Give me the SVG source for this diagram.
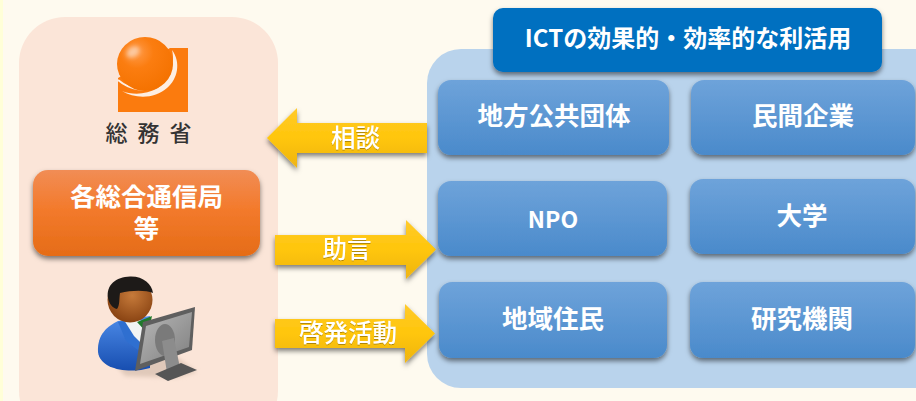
<svg xmlns="http://www.w3.org/2000/svg" width="916" height="401" viewBox="0 0 916 401">
  <defs>
    <linearGradient id="blueFill" x1="0" y1="0" x2="0" y2="1"><stop offset="0" stop-color="#6ea3da"/><stop offset="1" stop-color="#4a8acb"/></linearGradient>
    <linearGradient id="orangeFill" x1="0" y1="0" x2="0" y2="1"><stop offset="0" stop-color="#f18d55"/><stop offset="0.45" stop-color="#f37a2c"/><stop offset="1" stop-color="#e56c17"/></linearGradient>
    <linearGradient id="arrowFill" x1="0" y1="0" x2="0" y2="1"><stop offset="0" stop-color="#ffca2c"/><stop offset="0.5" stop-color="#ffc60a"/><stop offset="1" stop-color="#eeb414"/></linearGradient>
    <radialGradient id="ball" cx="0.35" cy="0.28" r="0.75"><stop offset="0" stop-color="#ff9a48"/><stop offset="0.4" stop-color="#fb7d10"/><stop offset="1" stop-color="#f47200"/></radialGradient>
    <radialGradient id="skin" cx="0.55" cy="0.4" r="0.6"><stop offset="0" stop-color="#c67a3a"/><stop offset="1" stop-color="#8a4413"/></radialGradient>
    <linearGradient id="suit" x1="0" y1="0" x2="0" y2="1"><stop offset="0" stop-color="#4d8be8"/><stop offset="1" stop-color="#174eb0"/></linearGradient>
    <linearGradient id="screen" x1="0" y1="0" x2="1" y2="1"><stop offset="0" stop-color="#b8b8b8"/><stop offset="1" stop-color="#7f7f7f"/></linearGradient>
    <filter id="shade" x="-15%" y="-20%" width="130%" height="145%"><feDropShadow dx="0" dy="3" stdDeviation="2.5" flood-color="#000" flood-opacity="0.5"/></filter>
    <filter id="soft" x="-30%" y="-30%" width="160%" height="160%"><feGaussianBlur stdDeviation="2"/></filter>
    <filter id="textShade" x="-10%" y="-20%" width="120%" height="140%"><feDropShadow dx="0" dy="1" stdDeviation="0.7" flood-color="#000" flood-opacity="0.3"/></filter>
  </defs>
  <style>
    text { font-family: "Noto Sans CJK JP", "Noto Sans", sans-serif; font-weight: 500; fill: #fff; text-anchor: middle; }
    .box { fill: url(#blueFill); filter: url(#shade); }
    .label { font-size: 25.500px; }
    .arrow { fill: url(#arrowFill); filter: url(#shade); }
    .arrowText { font-size: 24.500px; filter: url(#textShade); }
    .heavy { font-weight: 700; }
  </style>

  <!-- page and panels -->
  <rect width="916" height="401" fill="#fefaef"/>
  <rect width="3" height="401" fill="#ffffd8"/>
  <rect id="panel-left" x="19" y="17" width="259" height="420" rx="46" fill="#fbe5d8"/>
  <rect id="panel-right" x="427" y="49" width="530" height="339" rx="34" fill="#b9d3ec"/>

  <!-- ministry logo -->
  <g id="logo">
    <path d="M170 48 L188 48 L188 112 L118 112 L118 78 Z" fill="#fb7b0e"/>
    <path d="M118 80 C130 90 146 93 160 85" fill="none" stroke="#fdeee2" stroke-width="2"/>
    <path d="M122 91 C135 99 155 99 167 88 C178 79 181 62 172 50 C175 62 172 78 158 88 C146 95 132 95 122 91 Z" fill="#fdeee2"/>
    <ellipse cx="145" cy="64" rx="28" ry="27" fill="url(#ball)"/>
    <ellipse cx="133" cy="52" rx="7" ry="5" fill="#fcc9a0" transform="rotate(-35 133 52)" filter="url(#soft)"/>
    <text x="153.500" y="141" font-size="22" letter-spacing="10" style="fill:#333">総務省</text>
  </g>

  <!-- regional bureaus -->
  <g id="bureau">
    <rect x="33" y="170" width="227" height="86" rx="15" fill="url(#orangeFill)" filter="url(#shade)"/>
    <text class="heavy" font-size="25.500"><tspan x="146.500" y="206">各総合通信局</tspan><tspan x="146.500" y="238">等</tspan></text>
  </g>

  <!-- person at a monitor -->
  <g id="person">
    <path d="M100 345 L125 376 L175 378 L197 372 L160 345 Z" fill="#e0c9ba" filter="url(#soft)"/>
    <path d="M98 352 C97 334 108 326 118 321 L150 316 L150 368 C130 374 100 370 98 352 Z" fill="url(#suit)"/>
    <path d="M118 322 L126 341 L138 350 L146 345 L146 322 L135 319 Z" fill="#2f6fd0"/>
    <path d="M124 320 L134 336 L143 345 L146 322 L135 319 Z" fill="#f2f4f4"/>
    <path d="M137 322 L152 316 L148 334 Z" fill="#1f7a2b"/>
    <circle cx="130" cy="300" r="22.500" fill="url(#skin)"/>
    <path d="M108 298 C106 285 116 277 130 276.500 C143 276 152 284 153 293 C146 290 132 290 120 293 C119 299 120 305 117 309 C112 308 109 303 108 298 Z" fill="#1d1a18"/>
    <path d="M135 371 L143 322 L195 307 L192 350 Z" fill="#5f5f5f"/>
    <path d="M140 364 L146 326 L192 312 L189 347 Z" fill="url(#screen)"/>
    <ellipse cx="165" cy="340" rx="10" ry="16" fill="#7a7a7a"/>
    <path d="M162 341 L174 338 L180 368 L167 373 Z" fill="#8c8c8c"/>
    <path d="M155 374 L181 363 L197 370 L168 381 Z" fill="#555"/>
  </g>

  <!-- connectors -->
  <g id="connectors">
    <path class="arrow" d="M267 138 L297 108 L297 123 L427 123 L427 153 L297 153 L297 168 Z"/>
    <path class="arrow" d="M275 235 L406 235 L406 220 L436 249.500 L406 279 L406 265 L275 265 Z"/>
    <path class="arrow" d="M275 319 L405 319 L405 304 L435 333.500 L405 363 L405 348 L275 348 Z"/>
    <text class="arrowText" x="355.500" y="147">相談</text>
    <text class="arrowText" x="347" y="258">助言</text>
    <text class="arrowText" x="348" y="342">啓発活動</text>
  </g>

  <!-- organisations -->
  <g id="header">
    <rect x="493" y="8" width="389" height="64" rx="10" fill="#006fc0" filter="url(#shade)"/>
    <text class="heavy" x="688" y="47" font-size="24">ICTの効果的・効率的な利活用</text>
  </g>
  <g id="node-local-gov"><rect class="box" x="438" y="80" width="231" height="75" rx="13"/><text class="label heavy" x="554" y="125">地方公共団体</text></g>
  <g id="node-company"><rect class="box" x="691" y="80" width="224" height="75" rx="13"/><text class="label heavy" x="803" y="125">民間企業</text></g>
  <g id="node-npo"><rect class="box" x="438" y="181" width="229" height="75" rx="13"/><text class="label heavy" x="553" y="228" style="font-size:23px">NPO</text></g>
  <g id="node-university"><rect class="box" x="690" y="179" width="225" height="75" rx="13"/><text class="label heavy" x="802" y="225">大学</text></g>
  <g id="node-residents"><rect class="box" x="439" y="282" width="228" height="76" rx="13"/><text class="label heavy" x="553" y="328">地域住民</text></g>
  <g id="node-research"><rect class="box" x="690" y="282" width="225" height="76" rx="13"/><text class="label heavy" x="802" y="328">研究機関</text></g>
</svg>
